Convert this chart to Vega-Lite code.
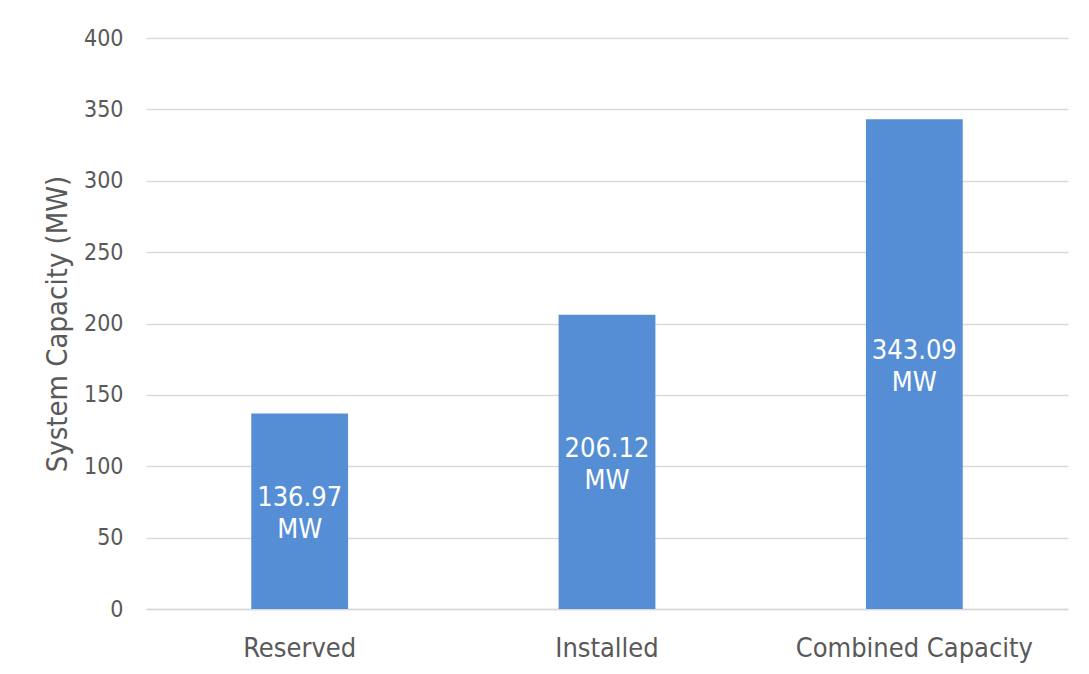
{
  "$schema": "https://vega.github.io/schema/vega-lite/v6.json",
  "width": 922,
  "height": 571,
  "autosize": "none",
  "padding": {"left": 146, "top": 38, "right": 21, "bottom": 65},
  "background": "white",
  "config": {
    "view": {"stroke": null},
    "font": "DejaVu Sans Condensed, DejaVu Sans",
    "axis": {"labelFont": "DejaVu Sans Condensed, DejaVu Sans", "titleFont": "DejaVu Sans Condensed, DejaVu Sans"}
  },
  "data": {
    "values": [
      {"category": "Reserved", "value": 136.97, "label": "136.97 MW"},
      {"category": "Installed", "value": 206.12, "label": "206.12 MW"},
      {"category": "Combined Capacity", "value": 343.09, "label": "343.09 MW"}
    ]
  },
  "layer": [
    {
      "mark": {"type": "bar", "color": "#558ed5"},
      "encoding": {
        "x": {
          "field": "category",
          "type": "nominal",
          "sort": null,
          "scale": {"paddingInner": 0.685, "paddingOuter": 0.3425},
          "axis": {
            "title": null,
            "labelAngle": 0,
            "labelFontSize": 27,
            "labelColor": "#595959",
            "labelPadding": 26,
            "labelLimit": 400,
            "ticks": false,
            "domain": true,
            "domainColor": "#d9d9d9",
            "domainWidth": 1.5,
            "grid": false
          }
        },
        "y": {
          "field": "value",
          "type": "quantitative",
          "scale": {"domain": [0, 400]},
          "axis": {
            "title": "System Capacity (MW)",
            "titleFontSize": 29,
            "titleFontWeight": "normal",
            "titleColor": "#595959",
            "titlePadding": 11,
            "values": [0, 50, 100, 150, 200, 250, 300, 350, 400],
            "labelFontSize": 23,
            "labelColor": "#595959",
            "labelPadding": 23,
            "ticks": false,
            "domain": false,
            "grid": true,
            "gridColor": "#d9d9d9",
            "gridWidth": 1.5
          }
        }
      }
    },
    {
      "mark": {"type": "text", "color": "white", "fontSize": 27, "lineBreak": " ", "lineHeight": 32, "baseline": "middle", "align": "center", "dy": -13},
      "encoding": {
        "x": {"field": "category", "type": "nominal", "sort": null},
        "y": {
          "field": "value",
          "type": "quantitative",
          "scale": {"domain": [0, 800]},
          "axis": null
        },
        "text": {"field": "label"}
      }
    }
  ],
  "resolve": {"scale": {"y": "independent"}}
}
